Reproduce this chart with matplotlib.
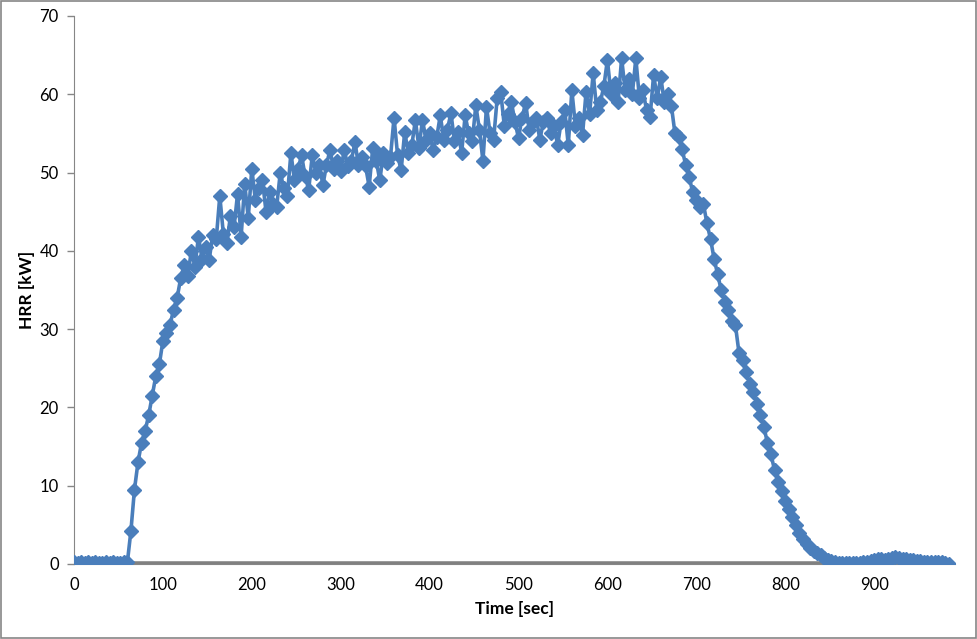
import numpy as np
import matplotlib
matplotlib.use("Agg")
import matplotlib.pyplot as plt
from matplotlib.patches import Rectangle

# Time axis (seconds), sampled every 4 s
time_sec = np.arange(0, 988, 4)

# HRR [kW]
hrr_kw = [
    # 0-36
    0.2, 0.1, 0.2, 0.1, 0.2, 0.1, 0.2, 0.1, 0.1, 0.2,
    # 40-76
    0.1, 0.2, 0.1, 0.1, 0.2, 0.2, 4.2, 9.5, 13.0, 15.5,
    # 80-116
    17.0, 19.0, 21.5, 24.0, 25.5, 28.5, 29.5, 30.5, 32.5, 34.0,
    # 120-156
    36.5, 38.2, 36.8, 40.0, 38.0, 41.8, 39.0, 40.5, 38.8, 42.0,
    # 160-196
    41.5, 47.0, 42.2, 41.0, 44.5, 43.0, 47.3, 41.8, 48.6, 44.2,
    # 200-236
    50.5, 46.5, 48.0, 49.0, 45.0, 47.5, 46.0, 45.6, 50.0, 48.0,
    # 240-276
    47.0, 52.5, 49.0, 50.5, 52.2, 49.5, 47.8, 52.2, 50.0, 51.0,
    # 280-316
    48.4, 51.0, 52.9, 50.5, 51.5, 50.2, 52.9, 50.8, 51.5, 53.9,
    # 320-356
    51.0, 52.0, 50.8, 48.2, 53.1, 51.5, 49.0, 52.5, 51.2, 52.0,
    # 360-396
    57.0, 52.2, 50.3, 55.2, 52.5, 53.5, 56.7, 53.2, 56.7, 54.2,
    # 400-436
    55.0, 52.9, 54.5, 57.3, 54.2, 55.5, 57.6, 54.0, 55.2, 52.5,
    # 440-476
    57.3, 55.0, 54.0, 58.6, 55.5, 51.5, 58.4, 55.0, 54.2, 59.5,
    # 480-516
    60.3, 56.0, 57.5, 59.0, 56.5, 54.4, 57.0, 58.9, 55.5, 56.5,
    # 520-556
    57.0, 54.2, 56.5, 57.0, 55.0, 56.0, 53.5, 56.5, 58.0, 53.5,
    # 560-596
    60.5, 56.0, 57.0, 54.8, 60.3, 57.5, 62.7, 58.0, 59.0, 61.0,
    # 600-636
    64.4, 60.0, 61.5, 59.0, 64.6, 60.5, 62.0, 60.0, 64.6, 59.5,
    # 640-676
    60.5, 58.0, 57.1, 62.5, 59.5, 62.2, 59.0, 60.0, 58.5, 55.0,
    # 680-716
    54.5, 53.0, 51.0, 49.4, 47.5, 46.5, 45.6, 46.0, 43.5, 41.5,
    # 720-756
    39.0, 37.0, 35.0, 33.5, 32.5, 31.0, 30.5, 27.0, 26.0, 24.5,
    # 760-796
    23.0, 22.0, 20.5, 19.0, 17.5, 15.5, 14.0, 12.0, 10.5, 9.3,
    # 800-836
    8.0, 7.0, 6.0, 5.0, 4.0, 3.2, 2.6, 2.1, 1.7, 1.4,
    # 840-876
    1.1, 0.8, 0.5, 0.35, 0.2, 0.1, 0.1, 0.1, 0.1, 0.1,
    # 880-916
    0.1, 0.15, 0.2, 0.3, 0.4, 0.5, 0.6, 0.6, 0.5, 0.7,
    # 920-956
    0.8, 0.9, 0.8, 0.7, 0.6, 0.5, 0.5, 0.4, 0.4, 0.3,
    # 960-984
    0.3, 0.3, 0.2, 0.2, 0.2, 0.1, 0.0,
]

baseline_kw = [0.0] * len(time_sec)

x_ticks = [0, 100, 200, 300, 400, 500, 600, 700, 800, 900]
y_ticks = [0, 10, 20, 30, 40, 50, 60, 70]

plt.rcParams['font.family'] = ['Lato', 'DejaVu Sans']

fig = plt.figure(figsize=(9.78, 6.39), dpi=100)
ax = fig.add_axes([74 / 978, 1 - 564 / 639, (955 - 74) / 978, (564 - 16) / 639])

ax.plot(time_sec, baseline_kw, color='#808080', lw=4.0, zorder=2, solid_capstyle='butt')
ax.plot(time_sec, hrr_kw, color='#4A7EBB', lw=2.6, marker='D', markersize=7,
        markerfacecolor='#4A7EBB', markeredgecolor='#4A7EBB', zorder=3)

ax.set_xlim(0, 991)
ax.set_ylim(0, 70)
ax.set_xticks(x_ticks)
ax.set_yticks(y_ticks)
ax.tick_params(axis='both', labelsize=12, colors='#000000')
ax.tick_params(axis='y', direction='out', length=5, color='#868686', width=1, pad=6)
ax.tick_params(axis='x', direction='out', length=0, pad=9)

for side in ['top', 'right']:
    ax.spines[side].set_visible(False)
ax.spines['left'].set_color('#868686')
ax.spines['bottom'].set_color('#868686')

ax.set_xlabel('Time [sec]', fontsize=12.5, fontweight='bold', labelpad=6)
ax.set_ylabel('HRR [kW]', fontsize=12.5, fontweight='bold', labelpad=3)

fig.patches.append(Rectangle((0.001, 0.001), 0.997, 0.997, transform=fig.transFigure,
                             fill=False, edgecolor='#868686', lw=1.2))

fig.savefig('out.png', dpi=100)
